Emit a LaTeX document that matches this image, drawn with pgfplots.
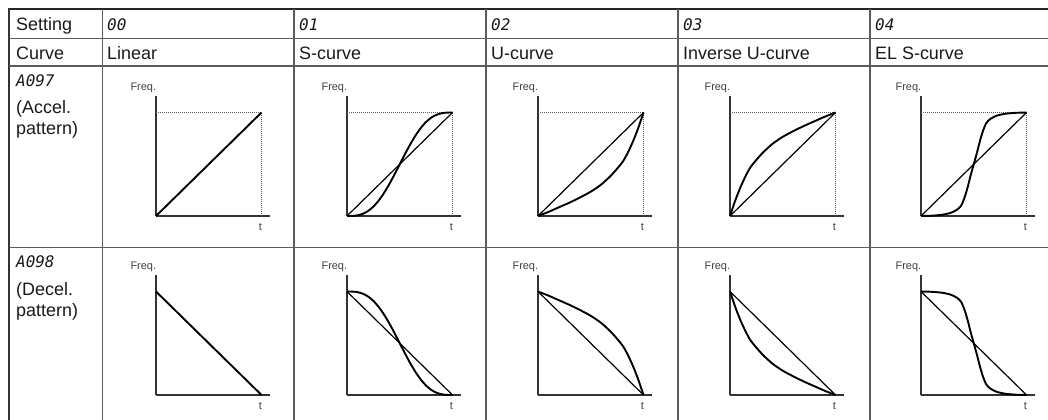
\documentclass[border=0pt]{standalone}
\usepackage{pgfplots}
\pgfplotsset{compat=1.18}
\usepackage{fontspec}
\setmainfont{Liberation Sans}
\newfontfamily\lcd{DejaVu Sans Mono}
\definecolor{gridc}{gray}{0.36}

\pgfplotsset{
 mini/.style={anchor=south west, x=105.5bp, y=103.5bp, xmin=0, xmax=1.076, ymin=0, ymax=1.16,
   axis x line=bottom, axis y line=left, axis line style={-, black!80, line width=1.2bp},
   xtick=\empty, ytick=\empty, clip=false},
 curve/.style={black, line width=1.9bp, smooth, tension=0.45, no markers},
 diag/.style={black, line width=1.2bp, no markers},
 dots/.style={black!65, line width=1bp, dash pattern=on 1bp off 1bp, no markers},
}
\newcommand{\flabels}{%
  \node[font=\fontsize{11}{12}\selectfont, text=black!75] at (axis cs:-0.12,1.24) {Freq.};
  \node[font=\fontsize{11}{12}\selectfont, text=black!75] at (axis cs:0.99,-0.11) {t};}

\begin{document}
\begin{tikzpicture}
\useasboundingbox (0,0) rectangle (1048bp,-420bp);
\begin{scope}[x=1bp,y=-1bp]
\draw[black!85, line width=2bp] (8,9) -- (1050,9);
\draw[black!80, line width=2.6bp] (9,8) -- (9,422);
\foreach \y in {38.5,66,247.5} \draw[gridc, line width=1.7bp] (9,\y) -- (1050,\y);
\foreach \x in {102.5,294,486,678,870} \draw[gridc, line width=1.7bp] (\x,9) -- (\x,422);
\begin{scope}[every node/.style={anchor=base west, inner sep=0pt, text=black!90, font=\fontsize{18}{20}\selectfont}]
\node at (16,30.5) {Setting};
\node at (16,59) {Curve};
\node at (107,59) {Linear};
\node at (299,59) {S-curve};
\node at (491,59) {U-curve};
\node at (683,59) {Inverse U-curve};
\node at (875,59) {EL S-curve};
\node at (16,113) {(Accel.};
\node at (16,134) {pattern)};
\node at (16,295) {(Decel.};
\node at (16,316) {pattern)};
\end{scope}
\begin{scope}[every node/.style={anchor=base west, inner sep=0pt, text=black!90, font=\lcd\itshape\fontsize{16}{18}\selectfont}]
\node at (107,30) {00};
\node at (299,30) {01};
\node at (491,30) {02};
\node at (683,30) {03};
\node at (875,30) {04};
\node at (16,86) {A097};
\node at (16,267) {A098};
\end{scope}
\end{scope}

% ---------- Acceleration row ----------
\begin{axis}[mini, at={(156bp,-216bp)}]
\addplot[dots] coordinates {(0,1) (1,1) (1,0)};
\addplot[curve] coordinates {(0,0) (1,1)};
\flabels
\end{axis}

\begin{axis}[mini, at={(347bp,-216bp)}]
\addplot[dots] coordinates {(0,1) (1,1) (1,0)};
\addplot[diag] coordinates {(0,0) (1,1)};
\addplot[curve] coordinates {(0,0) (0.05,0.0008) (0.1,0.0064) (0.15,0.0212) (0.2,0.0486) (0.25,0.0908) (0.3,0.1486) (0.35,0.2212) (0.4,0.3064) (0.45,0.4008) (0.5,0.5) (0.55,0.5992) (0.6,0.6936) (0.65,0.7788) (0.7,0.8514) (0.75,0.9092) (0.8,0.9514) (0.85,0.9788) (0.9,0.9936) (0.95,0.9992) (1,1)};
\flabels
\end{axis}

\begin{axis}[mini, at={(538bp,-216bp)}]
\addplot[dots] coordinates {(0,1) (1,1) (1,0)};
\addplot[diag] coordinates {(0,0) (1,1)};
\addplot[curve] coordinates {(0,0) (0.1,0.04) (0.2,0.085) (0.3,0.13) (0.4,0.18) (0.5,0.235) (0.6,0.305) (0.7,0.40) (0.8,0.52) (0.85,0.61) (0.9,0.72) (0.95,0.85) (1,1)};
\flabels
\end{axis}

\begin{axis}[mini, at={(730bp,-216bp)}]
\addplot[dots] coordinates {(0,1) (1,1) (1,0)};
\addplot[diag] coordinates {(0,0) (1,1)};
\addplot[curve] coordinates {(0,0) (0.05,0.15) (0.1,0.28) (0.15,0.39) (0.2,0.48) (0.3,0.60) (0.4,0.695) (0.5,0.765) (0.6,0.82) (0.7,0.87) (0.8,0.915) (0.9,0.96) (1,1)};
\flabels
\end{axis}

\begin{axis}[mini, at={(921bp,-216bp)}]
\addplot[dots] coordinates {(0,1) (1,1) (1,0)};
\addplot[diag] coordinates {(0,0) (1,1)};
\addplot[curve] coordinates {(0,0) (0.1,0.003) (0.2,0.012) (0.28,0.03) (0.34,0.06) (0.38,0.1) (0.41,0.17) (0.44,0.27) (0.47,0.39) (0.5,0.5) (0.53,0.61) (0.56,0.73) (0.59,0.83) (0.62,0.9) (0.66,0.94) (0.72,0.97) (0.8,0.988) (0.9,0.997) (1,1)};
\flabels
\end{axis}

% ---------- Deceleration row ----------
\begin{axis}[mini, at={(156bp,-395bp)}]
\addplot[curve] coordinates {(0,1) (1,0)};
\flabels
\end{axis}

\begin{axis}[mini, at={(347bp,-395bp)}]
\addplot[diag] coordinates {(0,1) (1,0)};
\addplot[curve] coordinates {(0,1) (0.05,0.9992) (0.1,0.9936) (0.15,0.9788) (0.2,0.9514) (0.25,0.9092) (0.3,0.8514) (0.35,0.7788) (0.4,0.6936) (0.45,0.5992) (0.5,0.5) (0.55,0.4008) (0.6,0.3064) (0.65,0.2212) (0.7,0.1486) (0.75,0.0908) (0.8,0.0486) (0.85,0.0212) (0.9,0.0064) (0.95,0.0008) (1,0)};
\flabels
\end{axis}

\begin{axis}[mini, at={(538bp,-395bp)}]
\addplot[diag] coordinates {(0,1) (1,0)};
\addplot[curve] coordinates {(0,1) (0.1,0.96) (0.2,0.915) (0.3,0.87) (0.4,0.82) (0.5,0.765) (0.6,0.695) (0.7,0.60) (0.8,0.48) (0.85,0.39) (0.9,0.28) (0.95,0.15) (1,0)};
\flabels
\end{axis}

\begin{axis}[mini, at={(730bp,-395bp)}]
\addplot[diag] coordinates {(0,1) (1,0)};
\addplot[curve] coordinates {(0,1) (0.05,0.85) (0.1,0.72) (0.15,0.61) (0.2,0.52) (0.3,0.40) (0.4,0.305) (0.5,0.235) (0.6,0.18) (0.7,0.13) (0.8,0.085) (0.9,0.04) (1,0)};
\flabels
\end{axis}

\begin{axis}[mini, at={(921bp,-395bp)}]
\addplot[diag] coordinates {(0,1) (1,0)};
\addplot[curve] coordinates {(0,1) (0.1,0.997) (0.2,0.988) (0.28,0.97) (0.34,0.94) (0.38,0.9) (0.41,0.83) (0.44,0.73) (0.47,0.61) (0.5,0.5) (0.53,0.39) (0.56,0.27) (0.59,0.17) (0.62,0.1) (0.66,0.06) (0.72,0.03) (0.8,0.012) (0.9,0.003) (1,0)};
\flabels
\end{axis}
\end{tikzpicture}
\end{document}
